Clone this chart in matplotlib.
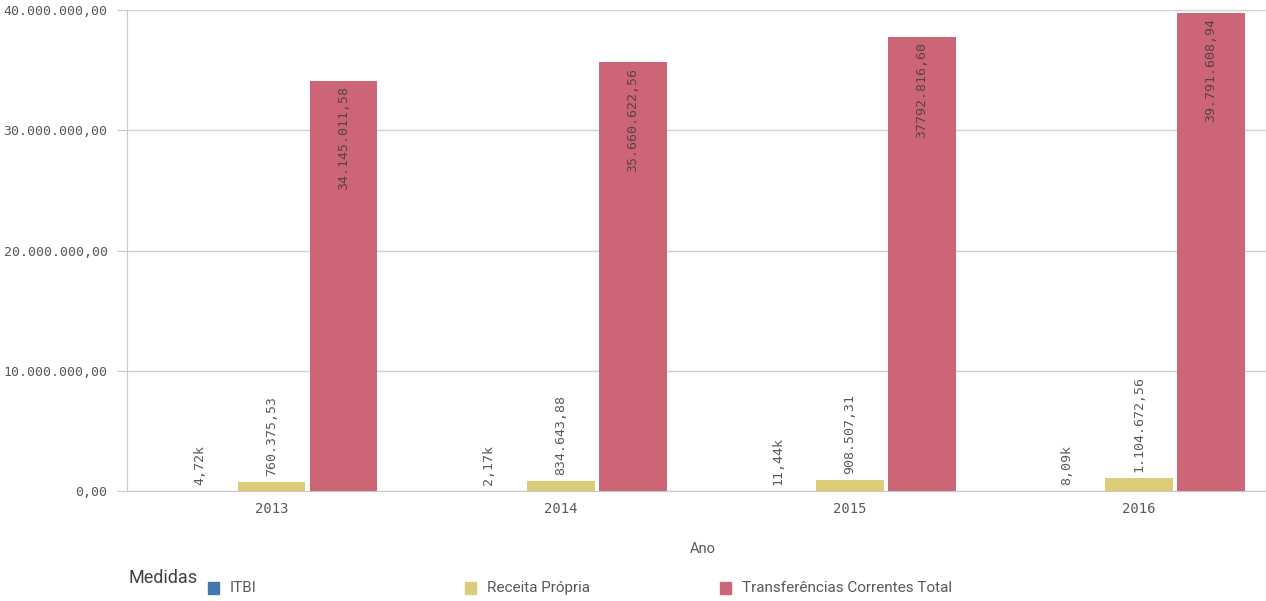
import numpy as np
import matplotlib.pyplot as plt
from matplotlib.ticker import FuncFormatter
from matplotlib.patches import Rectangle

anos = ["2013", "2014", "2015", "2016"]
itbi = [4720, 2170, 11440, 8090]
receita_propria = [760375.53, 834643.88, 908507.31, 1104672.56]
transferencias = [34145011.58, 35660622.56, 37792816.60, 39791608.94]

itbi_labels = ["4,72k", "2,17k", "11,44k", "8,09k"]
receita_labels = ["760.375,53", "834.643,88", "908.507,31", "1.104.672,56"]
transf_labels = ["34.145.011,58", "35.660.622,56", "37792.816,60", "39.791.608,94"]

series_names = ["ITBI", "Receita Própria", "Transferências Correntes Total"]
colors = ["#4477aa", "#ddcc77", "#cc6677"]

plt.rcParams["font.family"] = ["Roboto", "DejaVu Sans"]
mono = ["DejaVu Sans Mono"]
txt_color = "#595959"

fig = plt.figure(figsize=(12.66, 6.01), dpi=100)
ax = fig.add_axes([0.1003, 0.183, 0.8997, 0.8001])

x = np.arange(len(anos))
w = 0.235
step = 0.249

ax.bar(x - step, itbi, w, color=colors[0])
ax.bar(x, receita_propria, w, color=colors[1])
ax.bar(x + step, transferencias, w, color=colors[2])

# rotulos de valor
for i in range(len(anos)):
    ax.text(x[i] - step, itbi[i] + 500000, itbi_labels[i], rotation=90,
            ha="center", va="bottom", fontsize=9.5, color=txt_color, family=mono)
    ax.text(x[i], receita_propria[i] + 500000, receita_labels[i], rotation=90,
            ha="center", va="bottom", fontsize=9.5, color=txt_color, family=mono)
    ax.text(x[i] + step, transferencias[i] - 450000, transf_labels[i], rotation=90,
            ha="center", va="top", fontsize=9.5, color="#5a4048", family=mono)

ax.set_ylim(0, 40000000)
ax.set_xlim(-0.5, 3.44)
ax.set_yticks([0, 10000000, 20000000, 30000000, 40000000])
ax.yaxis.set_major_formatter(FuncFormatter(
    lambda v, p: "{:,.2f}".format(v).replace(",", "X").replace(".", ",").replace("X", ".")))
ax.set_xticks(x)
ax.set_xticklabels(anos, family=mono, fontsize=10, color=txt_color)
for lab in ax.get_yticklabels():
    lab.set_family(mono)
    lab.set_fontsize(9.5)
    lab.set_color(txt_color)

ax.grid(axis="y", color="#d0d0d0", linewidth=1)
ax.set_axisbelow(True)
for s in ["top", "right"]:
    ax.spines[s].set_visible(False)
ax.spines["left"].set_color("#c8c8c8")
ax.spines["bottom"].set_color("#c8c8c8")
ax.tick_params(axis="y", length=7, color="#c8c8c8", pad=7)
ax.tick_params(axis="x", length=0, pad=8)

ax.set_xlabel("Ano", fontsize=10.5, color="#595959")
ax.xaxis.set_label_coords((703 - 127) / (1266 - 127), -0.105)

# legenda
fig.text(128 / 1266, 1 - 578 / 601, "Medidas", fontsize=13, color="#404040", va="center")
leg_x = [208, 465, 720]
for i, name in enumerate(series_names):
    fig.patches.append(Rectangle((leg_x[i] / 1266, 1 - 594 / 601), 11 / 1266, 12 / 601,
                                 transform=fig.transFigure, color=colors[i]))
    fig.text((leg_x[i] + 22) / 1266, 1 - 588 / 601, name, fontsize=11,
             color="#595959", va="center")

fig.savefig("out.png", dpi=100)
